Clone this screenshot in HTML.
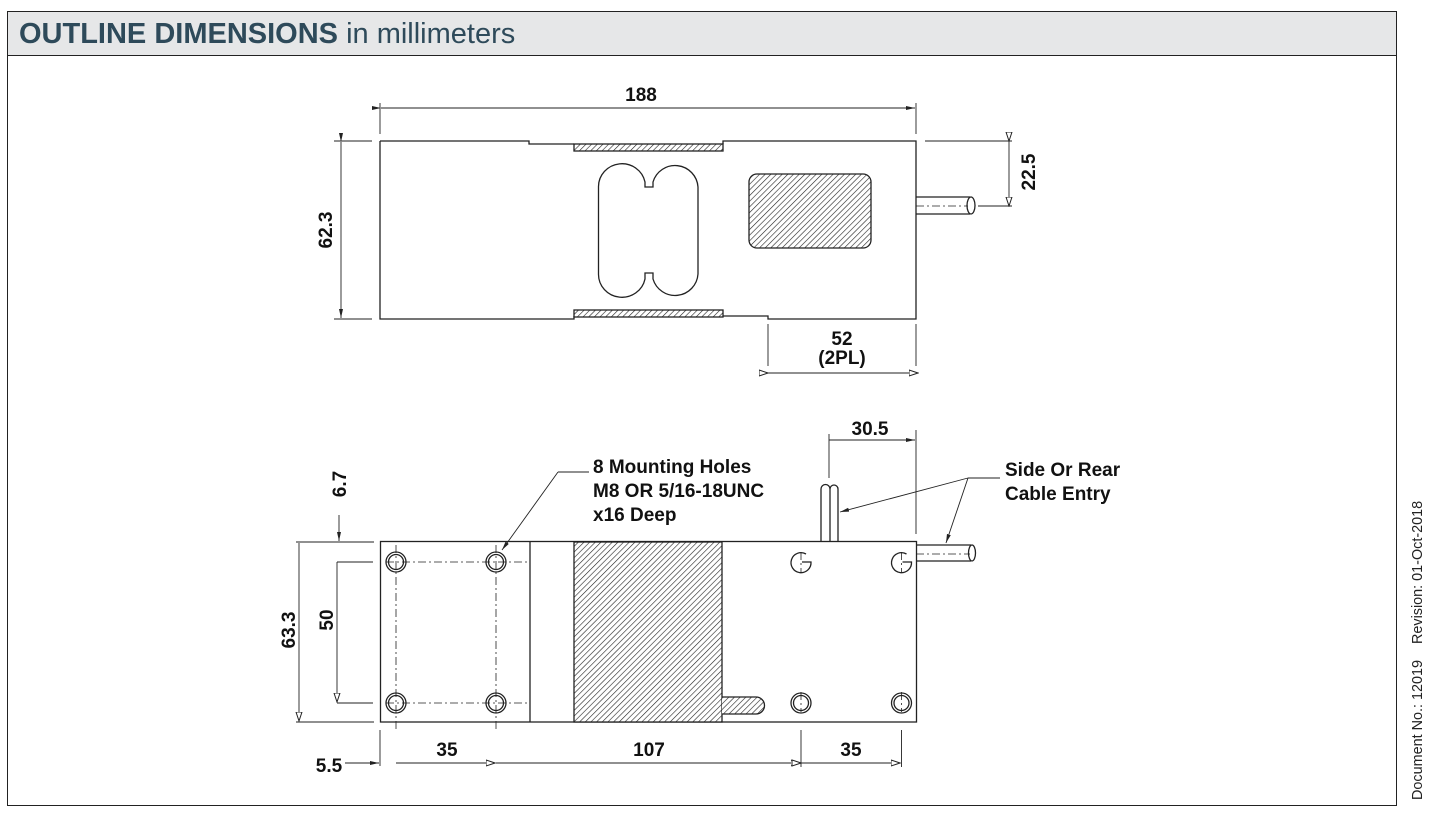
<!DOCTYPE html>
<html><head><meta charset="utf-8"><style>
html,body{margin:0;padding:0;background:#fff;width:1435px;height:817px;overflow:hidden}
svg{display:block}
text{font-family:"Liberation Sans",Arial,sans-serif}
.d{font-weight:bold;font-size:19px;fill:#111}
</style></head><body>
<svg width="1435" height="817" viewBox="0 0 1435 817" xmlns="http://www.w3.org/2000/svg">
<defs>
<pattern id="h" patternUnits="userSpaceOnUse" width="4" height="4" patternTransform="rotate(45)">
<rect width="4" height="4" fill="#fff"/><line x1="0" y1="0" x2="0" y2="4" stroke="#222" stroke-width="1.2"/>
</pattern>
<marker id="a" markerWidth="10" markerHeight="8" refX="9" refY="4" orient="auto" markerUnits="userSpaceOnUse"><path d="M0,1 L9,4 L0,7 Z" fill="#fff" stroke="#222" stroke-width="1"/></marker>
<marker id="s" markerWidth="10" markerHeight="8" refX="9" refY="4" orient="auto" markerUnits="userSpaceOnUse"><path d="M0,2 L9,4 L0,6 Z" fill="#222"/></marker>
</defs>
<!-- frame -->
<rect x="7.5" y="11.5" width="1389" height="794" fill="#fff" stroke="#222" stroke-width="1"/>
<rect x="8" y="12" width="1388" height="43" fill="#e6e7e8"/>
<line x1="7" y1="55.5" x2="1397" y2="55.5" stroke="#222"/>
<text x="19" y="43" font-size="29" fill="#2e4a5a"><tspan font-weight="bold">OUTLINE DIMENSIONS</tspan> in millimeters</text>
<text transform="translate(1422,800) rotate(-90)" font-size="14.4" fill="#222">Document No.: 12019 &#160;&#160; Revision: 01-Oct-2018</text>

<g stroke="#222" stroke-width="1.3" fill="none">
<!-- TOP VIEW -->
<path d="M380,141 L529,141 L529,144 L574,144 M723,144 L723,141 L916,141 L916,319 L768,319 L768,316 L723,316 M574,316 L574,319 L380,319 L380,141"/>
<rect x="574" y="144" width="149" height="7" fill="url(#h)"/>
<rect x="574" y="310" width="149" height="7" fill="url(#h)"/>
<path d="M598.5,187 A23.5,23 0 0 1 645,182 L645,187 L653,187 L653,182 A23,23 0 0 1 698,187 L698,274 A23,23 0 0 1 653,279 L653,273 L645,273 L645,279 A23.5,23 0 0 1 598.5,274 Z"/>
<rect x="749" y="174" width="122" height="74" rx="8" fill="url(#h)"/>
<path d="M916,197 L970,197 M916,214 L970,214"/>
<ellipse cx="971" cy="205.5" rx="4" ry="8.5"/>
<line x1="916" y1="206" x2="968" y2="206" stroke-width="0.8" stroke-dasharray="8,3,2,3"/>
<!-- 188 -->
<line x1="380" y1="103" x2="380" y2="134" stroke-width="0.9"/>
<line x1="916" y1="103" x2="916" y2="134" stroke-width="0.9"/>
<line x1="381" y1="108" x2="915" y2="108" stroke-width="0.9" marker-start="url(#s)" marker-end="url(#s)"/>
<!-- 62.3 -->
<line x1="334" y1="141" x2="372" y2="141" stroke-width="0.9"/>
<line x1="334" y1="319" x2="372" y2="319" stroke-width="0.9"/>
<line x1="341" y1="142" x2="341" y2="318" stroke-width="0.9" marker-start="url(#s)" marker-end="url(#s)"/>
<!-- 22.5 -->
<line x1="925" y1="141" x2="1012" y2="141" stroke-width="0.9"/>
<line x1="978" y1="206" x2="1012" y2="206" stroke-width="0.9"/>
<line x1="1009" y1="141" x2="1009" y2="206" stroke-width="0.9" marker-start="url(#a)" marker-end="url(#a)"/>
<!-- 52 -->
<line x1="768" y1="324" x2="768" y2="366" stroke-width="0.9"/>
<line x1="916" y1="324" x2="916" y2="366" stroke-width="0.9"/>
<line x1="768" y1="373" x2="918" y2="373" stroke-width="0.9" marker-start="url(#a)" marker-end="url(#a)"/>

<!-- BOTTOM VIEW -->
<rect x="380.5" y="541.5" width="536" height="180.5"/>
<line x1="530" y1="542" x2="530" y2="722"/>
<rect x="574" y="542" width="148" height="180" fill="url(#h)"/>
<path d="M722,697 L756,697 A8.5,8.5 0 0 1 756,714 L722,714" fill="url(#h)"/>
<g stroke-width="0.8" stroke-dasharray="8,3,2,3">
<line x1="386" y1="562" x2="530" y2="562"/>
<line x1="386" y1="703" x2="530" y2="703"/>
<line x1="396" y1="545" x2="396" y2="730"/>
<line x1="496" y1="545" x2="496" y2="730"/>
<line x1="801" y1="692" x2="801" y2="712"/>
<line x1="901.5" y1="552" x2="901.5" y2="572"/>
<line x1="901.5" y1="692" x2="901.5" y2="712"/>
<line x1="801" y1="552" x2="801" y2="572"/>
<line x1="916" y1="554" x2="970" y2="554"/>
<line x1="830" y1="488" x2="830" y2="541"/>
</g>
<g>
<circle cx="396" cy="562" r="10"/><circle cx="396" cy="562" r="7.5"/>
<circle cx="496" cy="562" r="10"/><circle cx="496" cy="562" r="7.5"/>
<circle cx="396" cy="703" r="10"/><circle cx="396" cy="703" r="7.5"/>
<circle cx="496" cy="703" r="10"/><circle cx="496" cy="703" r="7.5"/>
<path d="M806,554 A10,10 0 1 0 811,562 L802,562" stroke-width="1.3"/>
<path d="M906.5,554 A10,10 0 1 0 911.5,562 L902.5,562" stroke-width="1.3"/>
<circle cx="801" cy="703" r="10"/><circle cx="801" cy="703" r="7.5"/>
<circle cx="901.5" cy="703" r="10"/><circle cx="901.5" cy="703" r="7.5"/>
</g>
<path d="M821,541 L821,489 A4.5,4.5 0 0 1 830,489 L830,541 M830,489 A4,4 0 0 1 838,489 L838,541"/>
<path d="M916,545 L971,545 M916,561 L971,561"/>
<ellipse cx="972" cy="553" rx="3.5" ry="8"/>
<line x1="589" y1="472" x2="558" y2="472" stroke-width="0.9"/>
<line x1="558" y1="472" x2="502" y2="550" stroke-width="0.9" marker-end="url(#s)"/>
<line x1="1000" y1="478" x2="968" y2="478" stroke-width="0.9"/>
<line x1="968" y1="478" x2="840" y2="512" stroke-width="0.9" marker-end="url(#s)"/>
<line x1="968" y1="478" x2="946" y2="543" stroke-width="0.9" marker-end="url(#s)"/>
<line x1="829" y1="434" x2="829" y2="478" stroke-width="0.9"/>
<line x1="916" y1="430" x2="916" y2="534" stroke-width="0.9"/>
<line x1="829" y1="440" x2="915" y2="440" stroke-width="0.9" marker-end="url(#s)"/>
<line x1="296" y1="542" x2="374" y2="542" stroke-width="0.9"/>
<line x1="296" y1="722" x2="374" y2="722" stroke-width="0.9"/>
<line x1="339" y1="515" x2="339" y2="541" stroke-width="0.9" marker-end="url(#s)"/>
<line x1="299" y1="543" x2="299" y2="721" stroke-width="0.9" marker-end="url(#a)"/>
<line x1="337" y1="562" x2="373" y2="562" stroke-width="0.9"/>
<line x1="337" y1="703" x2="373" y2="703" stroke-width="0.9"/>
<line x1="337" y1="562" x2="337" y2="702" stroke-width="0.9" marker-end="url(#a)"/>
<line x1="380" y1="730" x2="380" y2="766" stroke-width="0.9"/>
<line x1="801" y1="730" x2="801" y2="767" stroke-width="0.9"/>
<line x1="901.5" y1="730" x2="901.5" y2="767" stroke-width="0.9"/>
<line x1="345" y1="763" x2="379" y2="763" stroke-width="0.9" marker-end="url(#s)"/>
<line x1="396" y1="763" x2="495" y2="763" stroke-width="0.9" marker-end="url(#a)"/>
<line x1="496" y1="763" x2="800" y2="763" stroke-width="0.9" marker-end="url(#a)"/>
<line x1="801" y1="763" x2="900" y2="763" stroke-width="0.9" marker-start="url(#a)" marker-end="url(#a)"/>
</g>

<text class="d" x="641" y="101" text-anchor="middle">188</text>
<text class="d" transform="translate(332,230) rotate(-90)" text-anchor="middle">62.3</text>
<text class="d" transform="translate(1035,172) rotate(-90)" text-anchor="middle">22.5</text>
<text class="d" x="842" y="345" text-anchor="middle">52</text>
<text class="d" x="842" y="364" text-anchor="middle">(2PL)</text>
<text class="d" x="870" y="435" text-anchor="middle">30.5</text>
<text class="d" x="593" y="473">8 Mounting Holes</text>
<text class="d" x="593" y="497">M8 OR 5/16-18UNC</text>
<text class="d" x="593" y="521">x16 Deep</text>
<text class="d" x="1005" y="476">Side Or Rear</text>
<text class="d" x="1005" y="500">Cable Entry</text>
<text class="d" transform="translate(346,484) rotate(-90)" text-anchor="middle">6.7</text>
<text class="d" transform="translate(295,630) rotate(-90)" text-anchor="middle">63.3</text>
<text class="d" transform="translate(333,620) rotate(-90)" text-anchor="middle">50</text>
<text class="d" x="329" y="772" text-anchor="middle">5.5</text>
<text class="d" x="447" y="756" text-anchor="middle">35</text>
<text class="d" x="649" y="756" text-anchor="middle">107</text>
<text class="d" x="851" y="756" text-anchor="middle">35</text>
</svg>
</body></html>
